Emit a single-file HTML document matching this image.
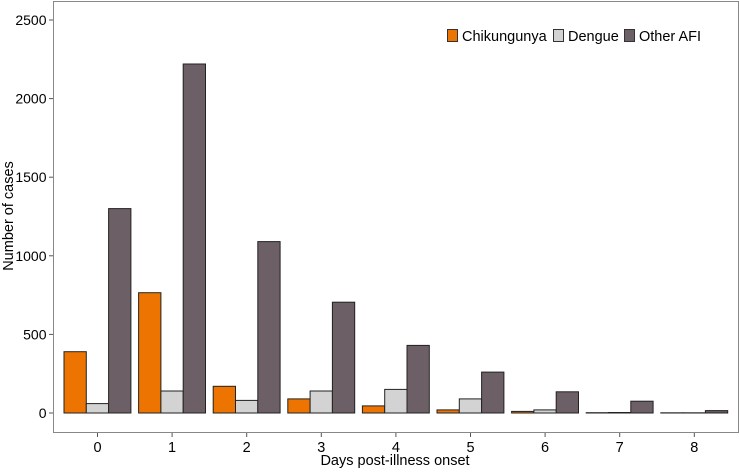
<!DOCTYPE html>
<html><head><meta charset="utf-8"><style>body{margin:0;background:#fff}</style></head><body>
<svg width="740" height="468" xmlns="http://www.w3.org/2000/svg" font-family="Liberation Sans, sans-serif">
<rect x="0" y="0" width="740" height="468" fill="#fff"/>
<rect x="53.5" y="1.5" width="685" height="431" fill="none" stroke="#888" stroke-width="1"/>
<g stroke="#222" stroke-width="1">
<g fill="#EE7402">
<rect x="64" y="351.7" width="22.3" height="61.3"/>
<rect x="138.6" y="292.7" width="22.3" height="120.3"/>
<rect x="213.2" y="386.3" width="22.3" height="26.7"/>
<rect x="287.8" y="398.9" width="22.3" height="14.1"/>
<rect x="362.4" y="405.9" width="22.3" height="7.1"/>
<rect x="437" y="409.9" width="22.3" height="3.1"/>
<rect x="511.6" y="411.4" width="22.3" height="1.6"/>
<rect x="586.2" y="412.7" width="22.3" height="0.3"/>
<rect x="660.8" y="412.8" width="22.3" height="0.2"/>
</g>
<g fill="#D3D3D3">
<rect x="86.3" y="403.6" width="22.3" height="9.4"/>
<rect x="160.9" y="391" width="22.3" height="22"/>
<rect x="235.5" y="400.4" width="22.3" height="12.6"/>
<rect x="310.1" y="391" width="22.3" height="22"/>
<rect x="384.7" y="389.4" width="22.3" height="23.6"/>
<rect x="459.3" y="398.9" width="22.3" height="14.1"/>
<rect x="533.9" y="409.9" width="22.3" height="3.1"/>
<rect x="608.5" y="412.5" width="22.3" height="0.5"/>
<rect x="683.1" y="412.8" width="22.3" height="0.2"/>
</g>
<g fill="#6C5F66">
<rect x="108.6" y="208.6" width="22.3" height="204.4"/>
<rect x="183.2" y="64" width="22.3" height="349"/>
<rect x="257.8" y="241.6" width="22.3" height="171.4"/>
<rect x="332.4" y="302.2" width="22.3" height="110.8"/>
<rect x="407" y="345.4" width="22.3" height="67.6"/>
<rect x="481.6" y="372.1" width="22.3" height="40.9"/>
<rect x="556.2" y="391.8" width="22.3" height="21.2"/>
<rect x="630.8" y="401.2" width="22.3" height="11.8"/>
<rect x="705.4" y="410.6" width="22.3" height="2.4"/>
</g>
</g>
<g stroke="#555" stroke-width="1">
<line x1="97.5" y1="433" x2="97.5" y2="437"/><line x1="172.1" y1="433" x2="172.1" y2="437"/><line x1="246.7" y1="433" x2="246.7" y2="437"/><line x1="321.3" y1="433" x2="321.3" y2="437"/><line x1="395.9" y1="433" x2="395.9" y2="437"/><line x1="470.5" y1="433" x2="470.5" y2="437"/><line x1="545.1" y1="433" x2="545.1" y2="437"/><line x1="619.7" y1="433" x2="619.7" y2="437"/><line x1="694.3" y1="433" x2="694.3" y2="437"/>
<line x1="49" y1="413" x2="53" y2="413"/><line x1="49" y1="334.4" x2="53" y2="334.4"/><line x1="49" y1="255.8" x2="53" y2="255.8"/><line x1="49" y1="177.2" x2="53" y2="177.2"/><line x1="49" y1="98.6" x2="53" y2="98.6"/><line x1="49" y1="20" x2="53" y2="20"/>
</g>
<g font-size="14.5" text-anchor="middle">
<text x="97.5" y="452">0</text><text x="172.1" y="452">1</text><text x="246.7" y="452">2</text><text x="321.3" y="452">3</text><text x="395.9" y="452">4</text><text x="470.5" y="452">5</text><text x="545.1" y="452">6</text><text x="619.7" y="452">7</text><text x="694.3" y="452">8</text>
</g>
<g font-size="14" text-anchor="end">
<text x="46.5" y="418">0</text><text x="46.5" y="339.4">500</text><text x="46.5" y="260.8">1000</text><text x="46.5" y="182.2">1500</text><text x="46.5" y="103.6">2000</text><text x="46.5" y="25">2500</text>
</g>
<text x="395" y="465" font-size="14.5" text-anchor="middle">Days post-illness onset</text>
<text transform="translate(13,216) rotate(-90)" font-size="14.5" text-anchor="middle">Number of cases</text>
<rect x="447.5" y="29.5" width="10" height="12" fill="#EE7402" stroke="#333"/>
<text x="462" y="41" font-size="14.5">Chikungunya</text>
<rect x="553.5" y="29.5" width="10" height="12" fill="#D3D3D3" stroke="#333"/>
<text x="568" y="41" font-size="14.5">Dengue</text>
<rect x="624.5" y="29.5" width="10" height="12" fill="#6C5F66" stroke="#333"/>
<text x="639" y="41" font-size="14.5">Other AFI</text>
</svg>
</body></html>
